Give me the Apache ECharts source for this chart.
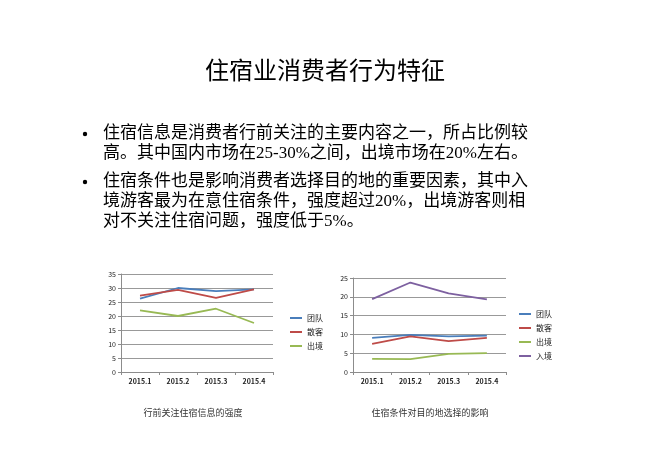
<!DOCTYPE html>
<html>
<head>
<meta charset="utf-8">
<script src="https://cdn.jsdelivr.net/npm/echarts@6/dist/echarts.min.js"></script>
<style>
  html, body { margin: 0; padding: 0; background: #fff; }
  #main { width: 650px; height: 459px; }
</style>
</head>
<body>
<div id="main"></div>
<script>
// 类别
var quarters = ['2015.1', '2015.2', '2015.3', '2015.4'];

// 左图：行前关注住宿信息的强度
var infoTuandui = [26.2, 30.0, 28.9, 29.5];
var infoSanke = [27.3, 29.3, 26.5, 29.5];
var infoChujing = [22.0, 20.0, 22.6, 17.5];

// 右图：住宿条件对目的地选择的影响
var condTuandui = [9.1, 9.9, 9.5, 9.7];
var condSanke = [7.5, 9.5, 8.2, 9.1];
var condChujing = [3.5, 3.4, 4.8, 5.0];
var condRujing = [19.4, 23.8, 20.9, 19.3];

var pageTitle = '住宿业消费者行为特征';
var bulletLines = [
    '住宿信息是消费者行前关注的主要内容之一，所占比例较',
    '高。其中国内市场在25-30%之间，出境市场在20%左右。',
    '住宿条件也是影响消费者选择目的地的重要因素，其中入',
    '境游客最为在意住宿条件，强度超过20%，出境游客则相',
    '对不关注住宿问题，强度低于5%。'
];
var captionLeft = '行前关注住宿信息的强度';
var captionRight = '住宿条件对目的地选择的影响';

var serif = '"Liberation Serif", "Noto Sans CJK SC", serif';
var sans = '"Noto Sans CJK SC", "DejaVu Sans", sans-serif';

var colors = { blue: '#4A7EBB', red: '#BE4B48', green: '#98B954', purple: '#7D60A0' };

function xAxisFor(idx) {
    return {
        type: 'category', gridIndex: idx, data: quarters, boundaryGap: true,
        axisLine: { lineStyle: { color: '#8c8c8c', width: 1 } },
        axisTick: { show: true, length: 3, lineStyle: { color: '#8c8c8c' } },
        axisLabel: { fontSize: 7, color: '#222', fontWeight: 'bold', margin: 6, fontFamily: sans }
    };
}
function yAxisFor(idx, max) {
    return {
        type: 'value', gridIndex: idx, min: 0, max: max, interval: 5,
        axisLine: { show: true, lineStyle: { color: '#8c8c8c', width: 1 } },
        axisTick: { show: true, length: 3, lineStyle: { color: '#8c8c8c' } },
        splitLine: { lineStyle: { color: '#999', width: 1 } },
        axisLabel: { fontSize: 7, color: '#222', margin: 5, fontFamily: sans }
    };
}
function lineSeries(name, data, color, idx) {
    return {
        name: name, type: 'line', data: data,
        xAxisIndex: idx, yAxisIndex: idx,
        symbol: 'none', color: color,
        lineStyle: { width: 1.8, color: color },
        animation: false
    };
}

var graphics = [{
    type: 'text', left: 'center', top: 61,
    style: { text: pageTitle, font: '24px ' + serif, fill: '#000' }
}];
var lineY = [134, 154, 182, 202, 222];
bulletLines.forEach(function (t, i) {
    graphics.push({
        type: 'text', left: 103, top: lineY[i] - 9,
        style: { text: t, font: '17px ' + serif, fill: '#000' }
    });
});
[0, 2].forEach(function (i) {
    graphics.push({
        type: 'circle', shape: { cx: 85, cy: lineY[i], r: 2.2 },
        style: { fill: '#000' }
    });
});
graphics.push({
    type: 'text', x: 193, y: 413,
    style: { text: captionLeft, font: '9px ' + sans, fill: '#333', align: 'center', verticalAlign: 'middle' }
});
graphics.push({
    type: 'text', x: 430, y: 413,
    style: { text: captionRight, font: '9px ' + sans, fill: '#333', align: 'center', verticalAlign: 'middle' }
});

var myChart = echarts.init(document.getElementById('main'));
myChart.setOption({
    backgroundColor: '#fff',
    animation: false,
    graphic: graphics,
    legend: [
        {
            data: ['团队', '散客', '出境'],
            orient: 'vertical', left: 285, top: 306,
            icon: 'rect', itemWidth: 12, itemHeight: 2, itemGap: 0,
            textStyle: { fontSize: 8, lineHeight: 14, color: '#222', fontFamily: sans }
        },
        {
            data: ['团队', '散客', '出境', '入境'],
            orient: 'vertical', left: 514, top: 302,
            icon: 'rect', itemWidth: 12, itemHeight: 2, itemGap: 0,
            textStyle: { fontSize: 8, lineHeight: 14, color: '#222', fontFamily: sans }
        }
    ],
    grid: [
        { left: 121, top: 274, width: 152, height: 98 },
        { left: 353, top: 278, width: 153, height: 94 }
    ],
    xAxis: [xAxisFor(0), xAxisFor(1)],
    yAxis: [yAxisFor(0, 35), yAxisFor(1, 25)],
    series: [
        lineSeries('团队', infoTuandui, colors.blue, 0),
        lineSeries('散客', infoSanke, colors.red, 0),
        lineSeries('出境', infoChujing, colors.green, 0),
        lineSeries('团队', condTuandui, colors.blue, 1),
        lineSeries('散客', condSanke, colors.red, 1),
        lineSeries('出境', condChujing, colors.green, 1),
        lineSeries('入境', condRujing, colors.purple, 1)
    ]
});
</script>
</body>
</html>
